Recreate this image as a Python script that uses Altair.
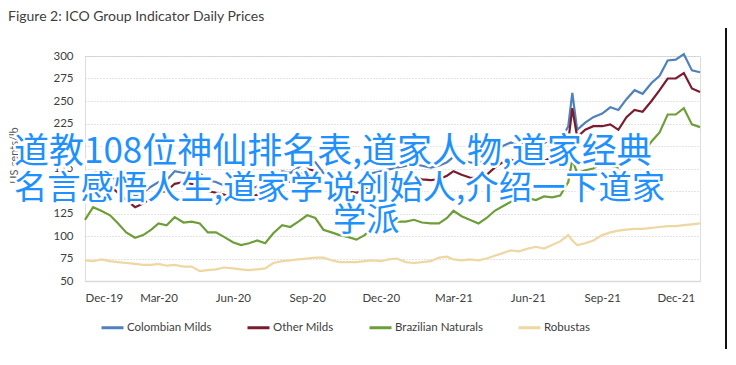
import altair as alt
import pandas as pd

dates = [
    "2019-12-01", "2019-12-11", "2019-12-21",
    "2020-01-01", "2020-01-11", "2020-01-21",
    "2020-02-01", "2020-02-11", "2020-02-21",
    "2020-03-01", "2020-03-11", "2020-03-21",
    "2020-04-01", "2020-04-11", "2020-04-21",
    "2020-05-01", "2020-05-11", "2020-05-21",
    "2020-06-01", "2020-06-11", "2020-06-21",
    "2020-07-01", "2020-07-11", "2020-07-21",
    "2020-08-01", "2020-08-11", "2020-08-21",
    "2020-09-01", "2020-09-11", "2020-09-21",
    "2020-10-01", "2020-10-11", "2020-10-21",
    "2020-11-01", "2020-11-11", "2020-11-21",
    "2020-12-01", "2020-12-11", "2020-12-21",
    "2021-01-01", "2021-01-11", "2021-01-21",
    "2021-02-01", "2021-02-11", "2021-02-21",
    "2021-03-01", "2021-03-11", "2021-03-21",
    "2021-04-01", "2021-04-11", "2021-04-21",
    "2021-05-01", "2021-05-11", "2021-05-21",
    "2021-06-01", "2021-06-11", "2021-06-21",
    "2021-07-01", "2021-07-11", "2021-07-21", "2021-07-26",
    "2021-08-01", "2021-08-11", "2021-08-21",
    "2021-09-01", "2021-09-11", "2021-09-21",
    "2021-10-01", "2021-10-11", "2021-10-21",
    "2021-11-01", "2021-11-11", "2021-11-21",
    "2021-12-01", "2021-12-11", "2021-12-21", "2021-12-31",
]

colombian = [
    158, 170, 172, 168, 160, 152, 145, 148, 155, 160, 162, 172,
    170, 172, 170, 162, 160, 156, 152, 150, 152, 155, 153, 160,
    172, 170, 176, 184, 182, 170, 168, 164, 162, 158, 164, 170,
    172, 174, 176, 178, 180, 178, 176, 178, 182, 188, 184, 182,
    180, 186, 194, 200, 204, 200, 205, 206, 203, 208, 205, 222, 259,
    218, 226, 232, 236, 243, 240, 252, 262, 258, 270, 278, 295,
    296, 302, 284, 282,
]
other = [
    150, 158, 160, 155, 148, 140, 132, 136, 142, 148, 150, 158,
    160, 158, 157, 150, 148, 146, 142, 140, 142, 146, 144, 150,
    162, 160, 166, 175, 172, 160, 156, 152, 150, 148, 152, 158,
    160, 160, 162, 164, 166, 163, 162, 163, 167, 172, 168, 165,
    164, 168, 176, 182, 185, 180, 185, 186, 183, 188, 186, 205, 242,
    210, 218, 222, 222, 224, 218, 232, 240, 238, 250, 262, 275,
    275, 281, 264, 260,
]
brazilian = [
    118, 132, 128, 123, 114, 104, 98, 101, 107, 114, 112, 121,
    115, 116, 114, 104, 104, 99, 93, 90, 92, 95, 92, 103,
    112, 110, 116, 123, 120, 107, 104, 101, 99, 96, 101, 109,
    110, 112, 116, 116, 118, 115, 114, 114, 120, 128, 122, 118,
    114, 120, 128, 133, 138, 140, 142, 140, 144, 143, 145, 160, 185,
    170, 173, 175, 181, 178, 176, 190, 197, 192, 205, 215, 235,
    235, 242, 224, 221,
]
robustas = [
    73, 72, 74, 72, 71, 70, 69, 68, 68, 69, 67, 68,
    66, 66, 61, 62, 63, 65, 64, 63, 62, 63, 64, 70,
    72, 73, 74, 75, 76, 76, 73, 71, 71, 71, 72, 73,
    72, 74, 75, 71, 70, 71, 72, 76, 77, 74, 73, 74,
    73, 75, 78, 81, 84, 83, 86, 88, 86, 90, 94, 101, 95,
    90, 92, 95, 101, 104, 106, 107, 108, 108, 109, 110, 111,
    111, 112, 113, 114,
]

series_names = ["Colombian Milds", "Other Milds", "Brazilian Naturals", "Robustas"]
series_colors = ["#4F81BD", "#7B1C2E", "#6E9E3A", "#EED7A1"]
y_ticks = [50, 75, 100, 125, 150, 175, 200, 225, 250, 275, 300]
x_tick_dates = [(2019, 12), (2020, 3), (2020, 6), (2020, 9), (2020, 12),
                (2021, 3), (2021, 6), (2021, 9), (2021, 12)]
title_text = "Figure 2: ICO Group Indicator Daily Prices"
y_title = "US cents/lb"
overlay_lines = ["道教108位神仙排名表,道家人物,道家经典",
                 "名言感悟人生,道家学说创始人,介绍一下道家",
                 "学派"]

rows = []
for name, vals in zip(series_names, [colombian, other, brazilian, robustas]):
    for d, v in zip(dates, vals):
        rows.append({"date": d, "value": v, "series": name})
df = pd.DataFrame(rows)

FONT = "Lato"
GRAY = "#404040"

x_enc = alt.X(
    "date:T",
    scale=alt.Scale(type="utc",
                    domain=[alt.DateTime(year=2019, month=12, date=1, utc=True),
                            alt.DateTime(year=2021, month=12, date=31, utc=True)]),
    axis=alt.Axis(
        values=[alt.DateTime(year=y, month=m, date=1, utc=True) for y, m in x_tick_dates],
        labelExpr="utcFormat(datum.value, '%b-%y')",
        title=None, grid=False, ticks=False,
        domainColor="#D9D9D9", domainWidth=1.5, labelFont=FONT, labelFontSize=11.5,
        labelColor=GRAY, labelPadding=11,
    ),
)
y_enc = alt.Y(
    "value:Q",
    scale=alt.Scale(domain=[50, 300], nice=False, zero=False),
    axis=alt.Axis(
        values=y_ticks, title=y_title, titleFont=FONT, titleFontSize=11,
        titleFontWeight="normal", titleColor="#595959", titleX=-71, titleY=99,
        titleAngle=-90, titleAlign="center", titleBaseline="middle",
        domain=False, ticks=False, labelFont=FONT, labelFontSize=11.5,
        labelColor=GRAY, labelPadding=12, grid=True, gridColor="#C8C8C8",
        gridDash=[1, 2], gridWidth=1,
    ),
)

lines = alt.Chart(df).mark_line(strokeWidth=2.2, clip=False).encode(
    x=x_enc,
    y=y_enc,
    color=alt.Color(
        "series:N",
        scale=alt.Scale(domain=series_names, range=series_colors),
        sort=series_names,
        legend=alt.Legend(
            title=None, orient="none", legendX=15, legendY=259,
            direction="horizontal", symbolType="stroke", symbolSize=484,
            symbolStrokeWidth=3, labelFont=FONT, labelFontSize=11.5,
            labelColor=GRAY, labelOffset=2, columnPadding=29,
        ),
    ),
    order=alt.Order("series:N"),
)

one_row = pd.DataFrame({"k": [0]})

# right edge of the surrounding frame
frame_right = alt.Chart(one_row).mark_rule(color="#111111", strokeWidth=2).encode(
    x=alt.value(641), y=alt.value(-28), y2=alt.value(293))

title_mark = alt.Chart(one_row).mark_text(
    text=title_text, font=FONT, fontSize=14, color=GRAY, align="left",
    baseline="middle").encode(x=alt.value(-77), y=alt.value(-39))

overlay_pos = [(-71, 96, 35), (-71, 132.5, 33.3), (248, 164.5, 33.3)]

def overlay_line(txt, px, py, size, stroke):
    kw = dict(font="Noto Sans CJK SC", fontSize=size, align="left", baseline="middle",
              text=txt)
    if stroke:
        m = alt.Chart(one_row).mark_text(
            stroke="white", strokeWidth=5, fill="white", strokeJoin="round", **kw)
    else:
        m = alt.Chart(one_row).mark_text(fill="#1E90FF", **kw)
    return m.encode(x=alt.value(px), y=alt.value(py))

layers = [lines, frame_right, title_mark]
for stroke in (True, False):
    for txt, (px, py, size) in zip(overlay_lines, overlay_pos):
        layers.append(overlay_line(txt, px, py, size, stroke))

chart = alt.layer(*layers).properties(
    width=615,
    height=225,
    autosize=alt.AutoSizeParams(type="none"),
    padding={"left": 77, "top": 48, "right": 28, "bottom": 76},
).configure_view(stroke=None).configure(background="white")

chart.save("out.html", embed_options={"renderer": "svg", "actions": False})
